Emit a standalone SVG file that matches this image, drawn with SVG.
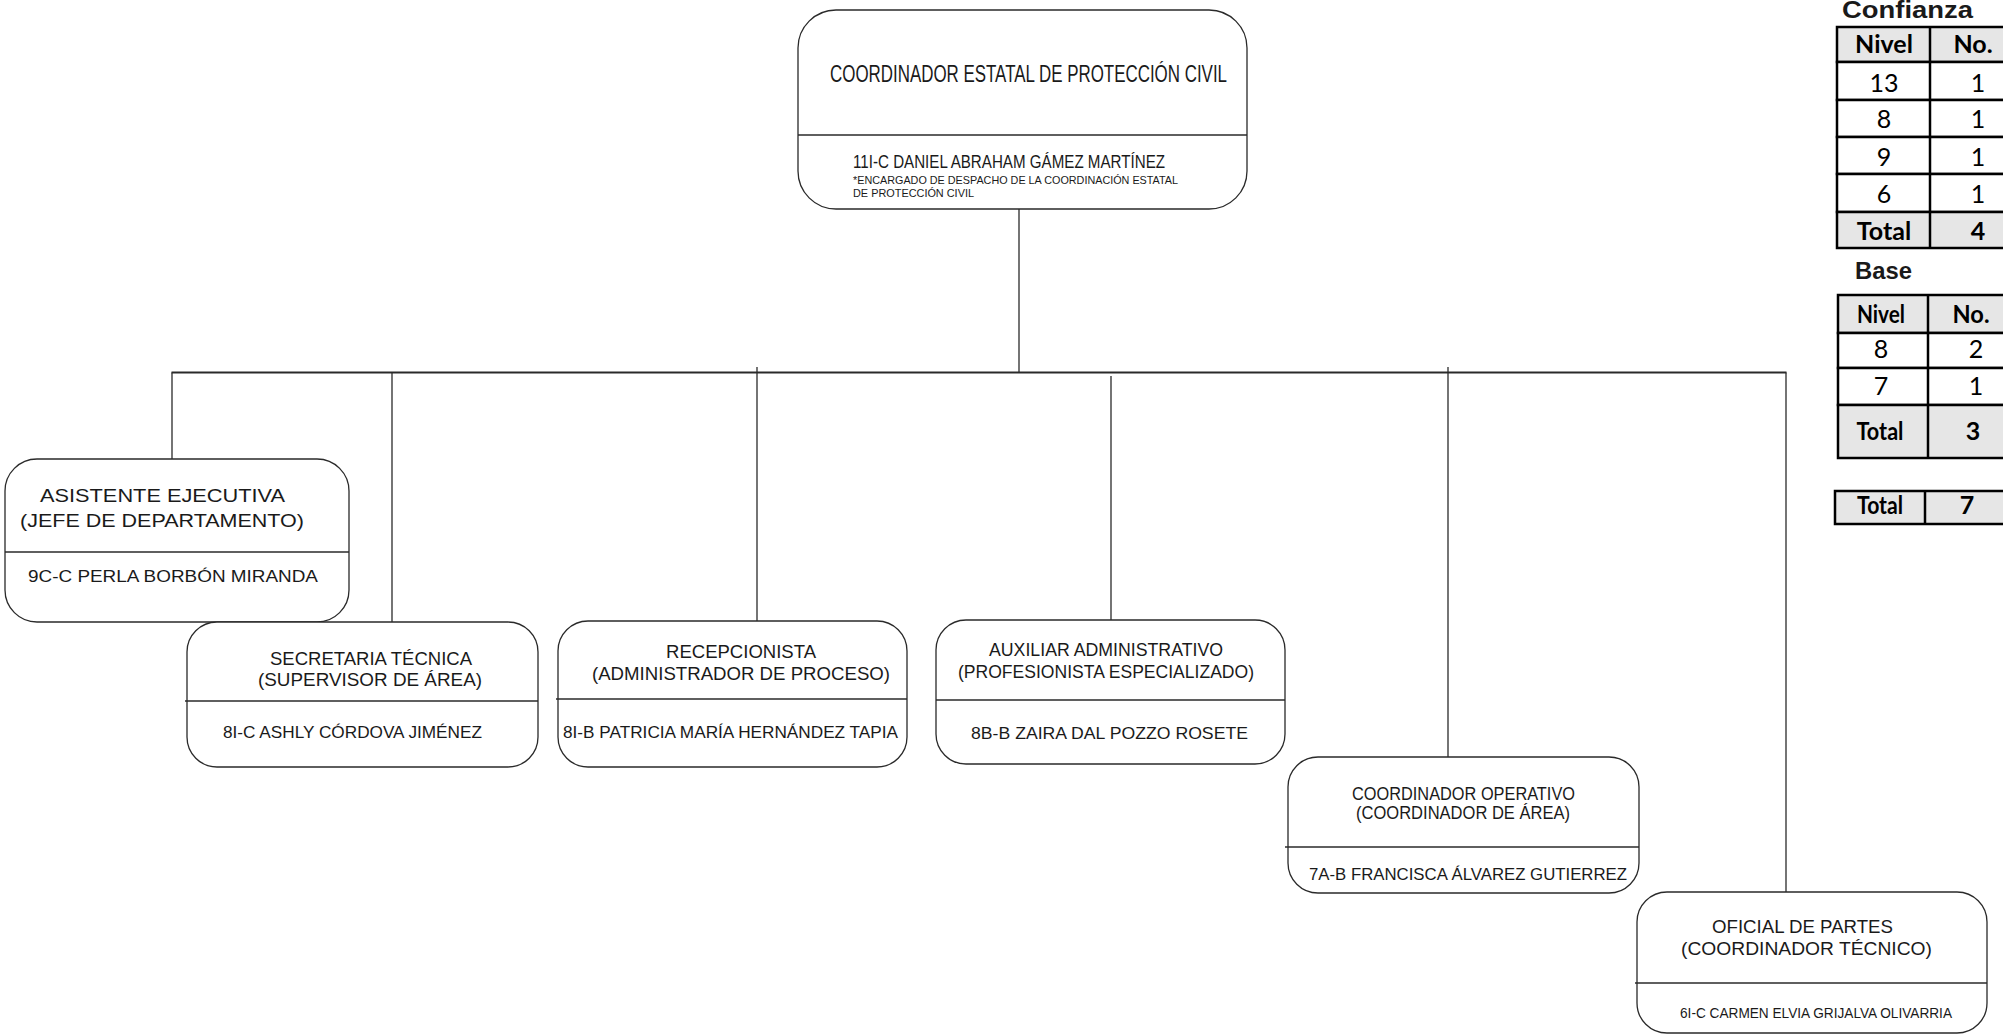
<svg xmlns="http://www.w3.org/2000/svg" width="2003" height="1034" viewBox="0 0 2003 1034">
<style>
.box{fill:#fff;stroke:#2a2a2a;stroke-width:1.3}
.div{stroke:#2a2a2a;stroke-width:1.3}
.t{font-family:"Liberation Sans",Arial,sans-serif;fill:#1a1a1a}
.con line{stroke:#2a2a2a;stroke-width:1.3}
.tb{fill:#fff;stroke:#000;stroke-width:2.5}
.tg{fill:#e6e6e6;stroke:#000;stroke-width:2.5}
.tl{stroke:#000;stroke-width:2.5}
.tt{font-family:Lato,"Liberation Sans",sans-serif;fill:#000;text-anchor:middle}
.b{font-weight:bold}
.ttl{font-family:"Liberation Sans",Arial,sans-serif;font-weight:bold;fill:#1a1a1a}
</style>
<rect width="2003" height="1034" fill="#fff"/>

<g id="connectors" class="con">
<line x1="1019" y1="209" x2="1019" y2="372.5"/>
<line x1="171.5" y1="372.5" x2="1786.5" y2="372.5" style="stroke-width:1.8"/>
<line x1="172" y1="372.5" x2="172" y2="459"/>
<line x1="392" y1="372.5" x2="392" y2="622"/>
<line x1="757" y1="367" x2="757" y2="621"/>
<line x1="1111" y1="376" x2="1111" y2="620"/>
<line x1="1448" y1="367" x2="1448" y2="757"/>
<line x1="1786" y1="372.5" x2="1786" y2="892"/>
</g>

<g id="node-coordinador">
<rect class="box" x="798" y="10" width="449" height="199" rx="38"/>
<line class="div" x1="798" y1="135" x2="1247" y2="135"/>
<text class="t" x="830" y="82" font-size="24" textLength="397" lengthAdjust="spacingAndGlyphs">COORDINADOR ESTATAL DE PROTECCIÓN CIVIL</text>
<text class="t" x="853" y="168" font-size="17.5" textLength="312" lengthAdjust="spacingAndGlyphs">11I-C DANIEL ABRAHAM GÁMEZ MARTÍNEZ</text>
<text class="t" x="853" y="184" font-size="11.5" textLength="325" lengthAdjust="spacingAndGlyphs">*ENCARGADO DE DESPACHO DE LA COORDINACIÓN ESTATAL</text>
<text class="t" x="853" y="197" font-size="11.5" textLength="121" lengthAdjust="spacingAndGlyphs">DE PROTECCIÓN CIVIL</text>
</g>

<g id="node-asistente">
<rect class="box" x="5" y="459" width="344" height="163" rx="32"/>
<line class="div" x1="5" y1="552" x2="349" y2="552"/>
<text class="t" x="40" y="502" font-size="19" textLength="245" lengthAdjust="spacingAndGlyphs">ASISTENTE EJECUTIVA</text>
<text class="t" x="20" y="527" font-size="19" textLength="284" lengthAdjust="spacingAndGlyphs">(JEFE DE DEPARTAMENTO)</text>
<text class="t" x="28" y="582" font-size="17" textLength="290" lengthAdjust="spacingAndGlyphs">9C-C PERLA BORBÓN MIRANDA</text>
</g>

<g id="node-secretaria">
<rect class="box" x="187" y="622" width="351" height="145" rx="30"/>
<line class="div" x1="185" y1="701" x2="538" y2="701"/>
<text class="t" x="270" y="665" font-size="18" textLength="202" lengthAdjust="spacingAndGlyphs">SECRETARIA TÉCNICA</text>
<text class="t" x="258" y="686" font-size="18" textLength="224" lengthAdjust="spacingAndGlyphs">(SUPERVISOR DE ÁREA)</text>
<text class="t" x="223" y="738" font-size="17" textLength="259" lengthAdjust="spacingAndGlyphs">8I-C ASHLY CÓRDOVA JIMÉNEZ</text>
</g>

<g id="node-recepcionista">
<rect class="box" x="558" y="621" width="349" height="146" rx="30"/>
<line class="div" x1="556" y1="699" x2="907" y2="699"/>
<text class="t" x="666" y="658" font-size="18" textLength="150" lengthAdjust="spacingAndGlyphs">RECEPCIONISTA</text>
<text class="t" x="592" y="680" font-size="18" textLength="298" lengthAdjust="spacingAndGlyphs">(ADMINISTRADOR DE PROCESO)</text>
<text class="t" x="563" y="738" font-size="17" textLength="335" lengthAdjust="spacingAndGlyphs">8I-B PATRICIA MARÍA HERNÁNDEZ TAPIA</text>
</g>

<g id="node-auxiliar">
<rect class="box" x="936" y="620" width="349" height="144" rx="30"/>
<line class="div" x1="936" y1="700" x2="1285" y2="700"/>
<text class="t" x="989" y="656" font-size="18" textLength="234" lengthAdjust="spacingAndGlyphs">AUXILIAR ADMINISTRATIVO</text>
<text class="t" x="958" y="678" font-size="18" textLength="296" lengthAdjust="spacingAndGlyphs">(PROFESIONISTA ESPECIALIZADO)</text>
<text class="t" x="971" y="739" font-size="17" textLength="277" lengthAdjust="spacingAndGlyphs">8B-B ZAIRA DAL POZZO ROSETE</text>
</g>

<g id="node-coordinador-operativo">
<rect class="box" x="1288" y="757" width="351" height="136" rx="30"/>
<line class="div" x1="1285" y1="847" x2="1639" y2="847"/>
<text class="t" x="1352" y="800" font-size="18" textLength="223" lengthAdjust="spacingAndGlyphs">COORDINADOR OPERATIVO</text>
<text class="t" x="1356" y="819" font-size="18" textLength="214" lengthAdjust="spacingAndGlyphs">(COORDINADOR DE ÁREA)</text>
<text class="t" x="1309" y="880" font-size="17" textLength="318" lengthAdjust="spacingAndGlyphs">7A-B FRANCISCA ÁLVAREZ GUTIERREZ</text>
</g>

<g id="node-oficial">
<rect class="box" x="1637" y="892" width="350" height="141" rx="30"/>
<line class="div" x1="1635" y1="983" x2="1987" y2="983"/>
<text class="t" x="1712" y="933" font-size="18" textLength="181" lengthAdjust="spacingAndGlyphs">OFICIAL DE PARTES</text>
<text class="t" x="1681" y="955" font-size="18" textLength="251" lengthAdjust="spacingAndGlyphs">(COORDINADOR TÉCNICO)</text>
<text class="t" x="1680" y="1018" font-size="15" textLength="272" lengthAdjust="spacingAndGlyphs">6I-C CARMEN ELVIA GRIJALVA OLIVARRIA</text>
</g>

<g id="table-confianza">
<text class="ttl" x="1842" y="18" font-size="24" textLength="131" lengthAdjust="spacingAndGlyphs">Confianza</text>
<rect class="tg" x="1837" y="27" width="180" height="35"/>
<rect class="tb" x="1837" y="62" width="180" height="38"/>
<rect class="tb" x="1837" y="100" width="180" height="37"/>
<rect class="tb" x="1837" y="137" width="180" height="37"/>
<rect class="tb" x="1837" y="174" width="180" height="38"/>
<rect class="tg" x="1837" y="212" width="180" height="36"/>
<line class="tl" x1="1930" y1="27" x2="1930" y2="248"/>
<text class="tt b" x="1884" y="53" font-size="25">Nivel</text>
<text class="tt b" x="1973" y="53" font-size="25">No.</text>
<text class="tt" x="1884" y="92" font-size="25">13</text>
<text class="tt" x="1978" y="92" font-size="25">1</text>
<text class="tt" x="1884" y="128" font-size="25">8</text>
<text class="tt" x="1978" y="128" font-size="25">1</text>
<text class="tt" x="1884" y="166" font-size="25">9</text>
<text class="tt" x="1978" y="166" font-size="25">1</text>
<text class="tt" x="1884" y="203" font-size="25">6</text>
<text class="tt" x="1978" y="203" font-size="25">1</text>
<text class="tt b" x="1884" y="240" font-size="25">Total</text>
<text class="tt b" x="1978" y="240" font-size="25">4</text>
</g>

<g id="table-base">
<text class="ttl" x="1855" y="279" font-size="24" textLength="57" lengthAdjust="spacingAndGlyphs">Base</text>
<rect class="tg" x="1838" y="295" width="180" height="38"/>
<rect class="tb" x="1838" y="333" width="180" height="35"/>
<rect class="tb" x="1838" y="368" width="180" height="37"/>
<rect class="tg" x="1838" y="405" width="180" height="53"/>
<line class="tl" x1="1928" y1="295" x2="1928" y2="458"/>
<text class="tt b" x="1881" y="323" font-size="25" textLength="48" lengthAdjust="spacingAndGlyphs">Nivel</text>
<text class="tt b" x="1971" y="323" font-size="25" textLength="37" lengthAdjust="spacingAndGlyphs">No.</text>
<text class="tt" x="1881" y="358" font-size="25">8</text>
<text class="tt" x="1976" y="358" font-size="25">2</text>
<text class="tt" x="1881" y="395" font-size="25">7</text>
<text class="tt" x="1976" y="395" font-size="25">1</text>
<text class="tt b" x="1880" y="440" font-size="25" textLength="47" lengthAdjust="spacingAndGlyphs">Total</text>
<text class="tt b" x="1973" y="440" font-size="25">3</text>
</g>

<g id="table-total">
<rect class="tg" x="1835" y="491" width="185" height="33"/>
<line class="tl" x1="1925" y1="491" x2="1925" y2="524"/>
<text class="tt b" x="1880" y="514" font-size="24" textLength="46" lengthAdjust="spacingAndGlyphs">Total</text>
<text class="tt b" x="1967" y="514" font-size="25">7</text>
</g>
</svg>
